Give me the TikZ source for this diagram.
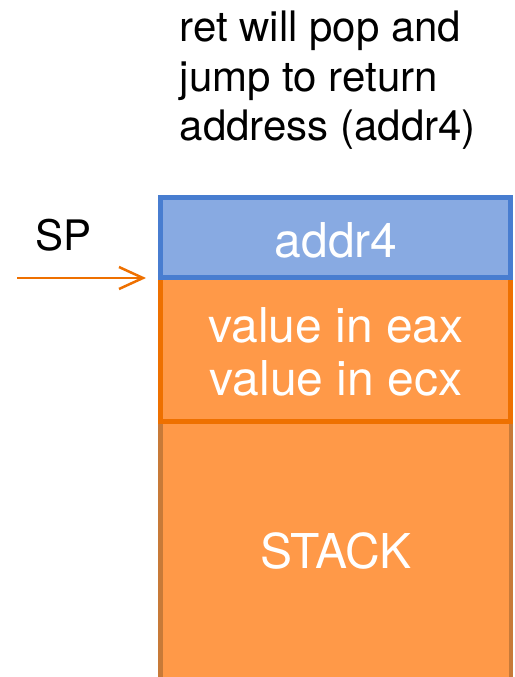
\documentclass[tikz,border=0pt]{standalone}
\usepackage{fontspec}
\setmainfont{TeX Gyre Heros}
\usetikzlibrary{arrows.meta}
\definecolor{slotblue}{RGB}{136,170,226}
\definecolor{slotblueline}{RGB}{72,125,208}
\definecolor{slotorange}{RGB}{255,153,72}
\definecolor{slotorangeline}{RGB}{238,112,0}
\definecolor{stackline}{RGB}{200,122,56}
\begin{document}
\begin{tikzpicture}[x=1pt,y=-1pt,
  slot/.style={rectangle,inner sep=0pt,outer sep=0pt,minimum width=350pt},
  bigwhite/.style={text=white,inner sep=0pt,anchor=base,font=\fontsize{48}{53}\selectfont},
  note/.style={text=black,inner sep=0pt,anchor=base west,font=\fontsize{42}{49}\selectfont},
  pointer/.style={draw=slotorangeline,line width=2.5pt,-{Straight Barb[length=24pt,width=22pt,line width=2.5pt]}}]
\useasboundingbox (0,0) rectangle (514,677);
\clip (0,0) rectangle (514,677);

% stack body, open at the bottom
\node[slot,fill=slotorange,minimum height=300pt] (stack) at (335.5,571) {};
\draw[stackline,line width=5pt] (stack.north west) -- (stack.south west);
\draw[stackline,line width=4pt] (stack.north east) -- (stack.south east);

% saved registers
\node[slot,fill=slotorange,draw=slotorangeline,line width=5pt,minimum height=143.5pt] (regs) at (335.5,349.25) {};

% return address on top
\node[slot,fill=slotblue,draw=slotblueline,line width=5pt,minimum height=80pt] (ret) at (335.5,237.5) {};

% slot labels
\node[bigwhite] (retlabel) at (336,257) {addr4};
\node[bigwhite] (eaxlabel) at (336,342) {value in eax};
\node[bigwhite] (ecxlabel) at (336,395) {value in ecx};
\node[bigwhite] (stacklabel) at (336,568) {STACK};

% explanation
\node[note] (line1) at (179.5,42) {ret will pop and};
\node[note] (line2) at (179.5,91) {jump to return};
\node[note] (line3) at (179.5,140) {address (addr4)};

% stack pointer
\node[note] (sp) at (35,250) {SP};
\coordinate (sptail) at (17,278);
\draw[pointer,shorten >=14.5pt] (sptail) -- (sptail -| ret.west);
\end{tikzpicture}
\end{document}
